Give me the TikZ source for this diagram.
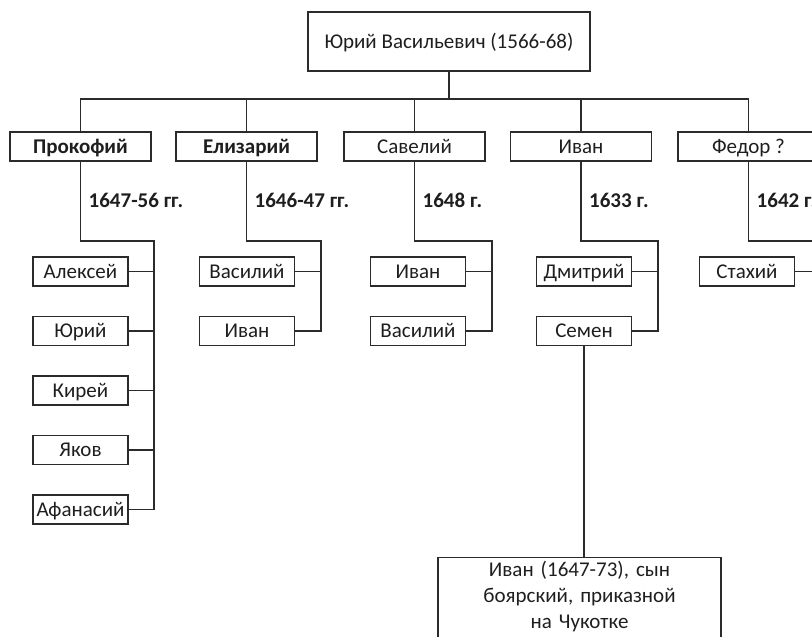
\documentclass[tikz,border=0pt]{standalone}
\usepackage{fontspec}
\setmainfont{Carlito}
\usepackage{tikz}
\usetikzlibrary{calc}
\definecolor{ink}{HTML}{1E1E1E}
\definecolor{wire}{HTML}{2B2B2B}
\tikzset{
  base/.style={draw=wire, line width=1.1pt, line cap=rect},
  box/.style={draw=wire, line width=1.1pt, text=ink, inner sep=0pt, font=\fontsize{21}{25}\selectfont},
  line1/.style={box, text height=15pt, text depth=1.5pt},
  son/.style={line1, minimum width=141pt, minimum height=29pt},
  sonb/.style={son, font=\fontsize{21}{25}\selectfont\bfseries},
  kid/.style={line1, minimum width=95pt, minimum height=29pt},
  yr/.style={text=ink, anchor=west, inner sep=0pt, font=\fontsize{21}{25}\selectfont\bfseries},
}
\begin{document}
\begin{tikzpicture}[x=1pt,y=-1pt]
  \useasboundingbox (0,0) rectangle (812,637);
  \clip (0,0) rectangle (812,637);
  \node[line1, minimum width=282pt, minimum height=59pt] (top) at (449,41.5) {Юрий Васильевич (1566-68)};
  \coordinate (bus) at (0,99);
  % sons
  \node[sonb] (prok) at (80.5,146.5) {Прокофий};
  \node[sonb] (eliz) at (246.5,146.5) {Елизарий};
  \node[son] (sav) at (414.5,146.5) {Савелий};
  \node[son] (ivan) at (581,146.5) {Иван};
  \node[son] (fed) at (748.5,146.5) {Федор ?};
  \draw[base] (top.south) -- (top.south |- bus);
  \draw[base] (prok.north |- bus) -- (fed.north |- bus);
  \foreach \S/\Y in {prok/1647-56 гг., eliz/1646-47 гг., sav/1648 г., ivan/1633 г., fed/1642 г.} {
    \draw[base] (\S.north) -- (\S.north |- bus);
    \node[yr] (\S-yr) at ($(\S.south |- 0,200)+(8,0)$) {\Y};
  }
  % grandsons
  \foreach \S/\cx/\bx/\kids/\n in {prok/80.5/154/{Алексей,Юрий,Кирей,Яков,Афанасий}/5,
      eliz/247/321/{Василий,Иван}/2, sav/418/492/{Иван,Василий}/2,
      ivan/584/658/{Дмитрий,Семен}/2, fed/747/821/{Стахий}/1} {
    \foreach \N [count=\i] in \kids
      \node[kid] (\S-\i) at (\cx,{271.5+59.5*(\i-1)}) {\N};
    \coordinate (\S-bus) at (\bx,241);
    \draw[base] (\S.south) |- (\S-bus) -- (\S-bus |- \S-\n.east);
    \foreach \i in {1,...,\n}
      \draw[base] (\S-\i.east) -- (\S-\i.east -| \S-bus);
  }
  \node[box, anchor=north, text width=283pt, align=center, inner ysep=4pt,
    font=\fontsize{21}{26}\selectfont] (semson) at (579.5,557)
    {Иван (1647-73), сын\\боярский, приказной\\на Чукотке\rule[-30pt]{0pt}{1pt}};
  \draw[base] (ivan-2.south) -- (ivan-2.south |- semson.north);
\end{tikzpicture}
\end{document}
